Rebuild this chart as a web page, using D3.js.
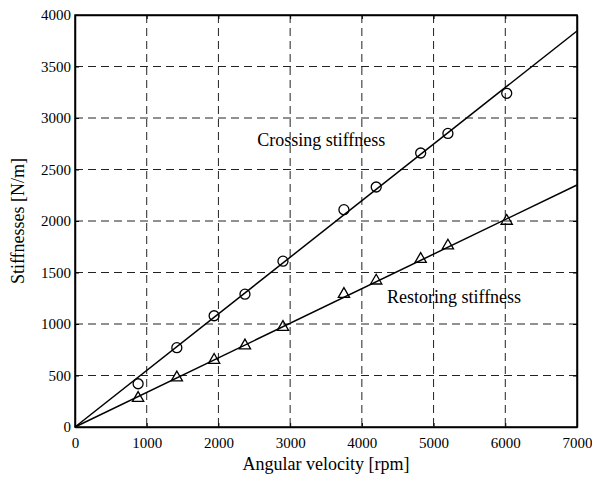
<!DOCTYPE html>
<html>
<head>
<meta charset="utf-8">
<script src="https://cdn.jsdelivr.net/npm/d3@7"></script>
<style>
  body { margin: 0; background: #fff; }
  svg { display: block; }
</style>
</head>
<body>
<svg id="plotSvg" width="592" height="478"></svg>
<script>
var speeds = [880, 1420, 1940, 2370, 2900, 3750, 4200, 4820, 5200, 6020];
var crossing = [420, 770, 1080, 1290, 1610, 2110, 2330, 2660, 2850, 3240];
var restoring = [280, 480, 650, 790, 970, 1290, 1420, 1630, 1760, 2000];

// fitted lines
var fitSpeeds = [0, 7000];
var crossingFit = [0, 3845];
var restoringFit = [0, 2350];

var xTicks = [0, 1000, 2000, 3000, 4000, 5000, 6000, 7000];
var yTicks = [0, 500, 1000, 1500, 2000, 2500, 3000, 3500, 4000];

var margin = {top: 15, right: 15, bottom: 51, left: 75};
var width = 592 - margin.left - margin.right;
var height = 478 - margin.top - margin.bottom;

var svg = d3.select("#plotSvg");
var g = svg.append("g").attr("transform", "translate(" + margin.left + "," + margin.top + ")");

var x = d3.scaleLinear().domain([0, 7000]).range([0, width]);
var y = d3.scaleLinear().domain([0, 4000]).range([height, 0]);

// dashed grid
g.append("g").selectAll("line")
    .data(xTicks.slice(1, -1))
    .enter().append("line")
    .attr("x1", d => x(d)).attr("x2", d => x(d))
    .attr("y1", 0).attr("y2", height)
    .attr("stroke", "#222").attr("stroke-width", 1)
    .attr("stroke-dasharray", "8,5");

g.append("g").selectAll("line")
    .data(yTicks.slice(1, -1))
    .enter().append("line")
    .attr("y1", d => y(d)).attr("y2", d => y(d))
    .attr("x1", 0).attr("x2", width)
    .attr("stroke", "#222").attr("stroke-width", 1)
    .attr("stroke-dasharray", "8,5");

// axes with inward ticks
var font = "'Liberation Serif', 'Times New Roman', serif";
var fmt = d3.format("d");

g.append("g")
    .attr("transform", "translate(0," + height + ")")
    .call(d3.axisBottom(x).tickValues(xTicks).tickFormat(fmt).tickSize(-4).tickPadding(10).tickSizeOuter(0));
g.append("g")
    .call(d3.axisLeft(y).tickValues(yTicks).tickFormat(fmt).tickSize(-4).tickPadding(4).tickSizeOuter(0));
g.append("g")
    .attr("transform", "translate(" + width + ",0)")
    .call(d3.axisRight(y).tickValues(yTicks).tickSize(-4).tickFormat("").tickSizeOuter(0));
g.append("g")
    .call(d3.axisTop(x).tickValues(xTicks).tickSize(-4).tickFormat("").tickSizeOuter(0));

g.selectAll(".domain").attr("stroke", "#000").attr("stroke-width", 1.5);
g.selectAll(".tick line").attr("stroke", "#000");
g.selectAll(".tick text")
    .attr("font-family", font)
    .attr("font-size", 15)
    .attr("fill", "#000");

g.append("rect")
    .attr("width", width).attr("height", height)
    .attr("fill", "none").attr("stroke", "#000").attr("stroke-width", 1.5);

// fitted lines
var line = d3.line()
    .x(d => x(d[0]))
    .y(d => y(d[1]));

[crossingFit, restoringFit].forEach(function (vals) {
    g.append("path")
        .datum(fitSpeeds.map((s, i) => [s, vals[i]]))
        .attr("d", line)
        .attr("fill", "none")
        .attr("stroke", "#000")
        .attr("stroke-width", 1.5);
});

// markers
g.append("g").selectAll("circle")
    .data(speeds.map((s, i) => [s, crossing[i]]))
    .enter().append("circle")
    .attr("cx", d => x(d[0])).attr("cy", d => y(d[1]))
    .attr("r", 5)
    .attr("fill", "none").attr("stroke", "#000").attr("stroke-width", 1.3);

var tri = d3.symbol().type(d3.symbolTriangle).size(55);
g.append("g").selectAll("path")
    .data(speeds.map((s, i) => [s, restoring[i]]))
    .enter().append("path")
    .attr("d", tri)
    .attr("transform", d => "translate(" + x(d[0]) + "," + y(d[1]) + ")")
    .attr("fill", "none").attr("stroke", "#000").attr("stroke-width", 1.3);

// annotations
g.append("text")
    .attr("x", x(2540)).attr("y", y(2730))
    .attr("font-family", font).attr("font-size", 18)
    .text("Crossing stiffness");
g.append("text")
    .attr("x", x(4350)).attr("y", y(1200))
    .attr("font-family", font).attr("font-size", 18)
    .text("Restoring stiffness");

// axis titles
svg.append("text")
    .attr("x", margin.left + width / 2).attr("y", 470)
    .attr("text-anchor", "middle")
    .attr("font-family", font).attr("font-size", 18)
    .text("Angular velocity [rpm]");
svg.append("text")
    .attr("transform", "translate(24," + (margin.top + height / 2) + ") rotate(-90)")
    .attr("text-anchor", "middle")
    .attr("font-family", font).attr("font-size", 18)
    .text("Stiffnesses [N/m]");
</script>
</body>
</html>
